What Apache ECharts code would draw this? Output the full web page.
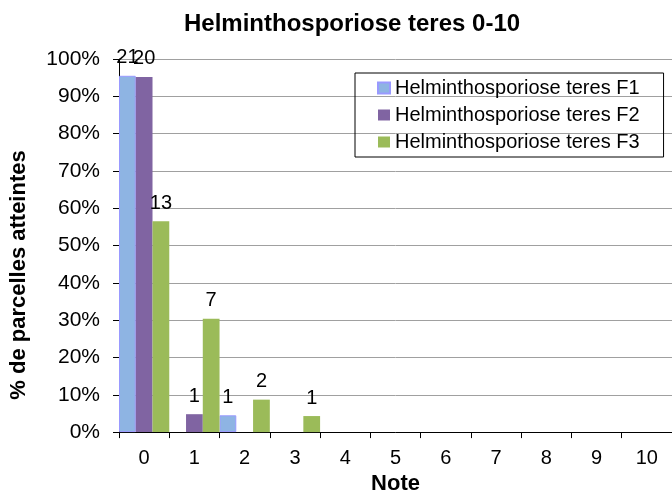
<!DOCTYPE html>
<html>
<head>
<meta charset="utf-8">
<script src="https://cdn.jsdelivr.net/npm/echarts@6/dist/echarts.min.js"></script>
<style>
  html, body { margin: 0; padding: 0; background: #fff; }
  #chart { width: 672px; height: 500px; }
</style>
</head>
<body>
<div id="chart"></div>
<script>
// categories (Note 0-10)
const notes = ['0', '1', '2', '3', '4', '5', '6', '7', '8', '9', '10'];
const yTicks = [0, 10, 20, 30, 40, 50, 60, 70, 80, 90, 100];

// % de parcelles atteintes
const pctF1 = [95.5, 0, 4.5, 0, 0, 0, 0, 0, 0, 0, 0];
const pctF2 = [95.2, 4.8, 0, 0, 0, 0, 0, 0, 0, 0, 0];
const pctF3 = [56.5, 30.4, 8.7, 4.3, 0, 0, 0, 0, 0, 0, 0];

// number of parcels shown as labels above the bars
const cntF1 = [21, null, 1, null, null, null, null, null, null, null, null];
const cntF2 = [20, 1, null, null, null, null, null, null, null, null, null];
const cntF3 = [13, 7, 2, 1, null, null, null, null, null, null, null];

const font = 'Liberation Sans, Arial, sans-serif';

const chart = echarts.init(document.getElementById('chart'));

// empty bars are left out so no border line shows at 0
const makeSeries = (name, data, counts, color, border) => ({
  name: name,
  type: 'bar',
  data: data.map(v => (v === 0 ? null : v)),
  barGap: '0%',
  barCategoryGap: '0%',
  itemStyle: { color: color, borderColor: border, borderWidth: border ? 1 : 0 },
  label: {
    show: true,
    position: 'top',
    distance: 8,
    color: '#000',
    fontFamily: font,
    fontSize: 20,
    formatter: p => (counts[p.dataIndex] == null ? '' : String(counts[p.dataIndex]))
  },
  emphasis: { disabled: true }
});

const option = {
  animation: false,
  title: {
    text: 'Helminthosporiose teres 0-10',
    left: 184,
    top: 12,
    padding: 0,
    textStyle: { fontFamily: font, fontSize: 24, fontWeight: 'bold', color: '#000' }
  },
  legend: {
    orient: 'vertical',
    left: 355,
    top: 73,
    padding: [5, 24, 5, 22],
    borderColor: '#000',
    borderWidth: 1,
    itemWidth: 12,
    itemHeight: 11,
    itemGap: 7,
    icon: 'rect',
    textStyle: { fontFamily: font, fontSize: 20, color: '#000' },
    data: ['Helminthosporiose teres F1', 'Helminthosporiose teres F2', 'Helminthosporiose teres F3']
  },
  grid: { left: 119, top: 59, width: 562, height: 381, containLabel: false },
  xAxis: {
    type: 'category',
    data: notes,
    name: 'Note',
    nameLocation: 'middle',
    nameGap: 40,
    nameTextStyle: { fontFamily: font, fontSize: 22, fontWeight: 'bold', color: '#000' },
    axisLine: { lineStyle: { color: '#000', width: 1 } },
    axisTick: { show: true, length: 6, lineStyle: { color: '#000' } },
    axisLabel: { fontFamily: font, fontSize: 20, color: '#000', margin: 16, interval: 0 }
  },
  yAxis: {
    type: 'value',
    min: yTicks[0],
    max: yTicks[yTicks.length - 1],
    interval: 10,
    axisLine: { show: true, lineStyle: { color: '#000', width: 1 } },
    axisTick: { show: true, length: 6, lineStyle: { color: '#000' } },
    axisLabel: { fontFamily: font, fontSize: 21, color: '#000', margin: 19, formatter: '{value}%' },
    splitLine: { show: true, lineStyle: { color: '#a0a0a0', width: 1 } }
  },
  graphic: [{
    type: 'text',
    x: 19,
    y: 275,
    rotation: Math.PI / 2,
    style: {
      text: '% de parcelles atteintes',
      fill: '#000',
      font: 'bold 22px Liberation Sans, Arial, sans-serif',
      align: 'center',
      verticalAlign: 'middle'
    }
  }],
  series: [
    makeSeries('Helminthosporiose teres F1', pctF1, cntF1, '#8EB4E3', '#9999FF'),
    makeSeries('Helminthosporiose teres F2', pctF2, cntF2, '#8064A2', null),
    makeSeries('Helminthosporiose teres F3', pctF3, cntF3, '#9BBB59', null)
  ]
};

chart.setOption(option);
</script>
</body>
</html>
